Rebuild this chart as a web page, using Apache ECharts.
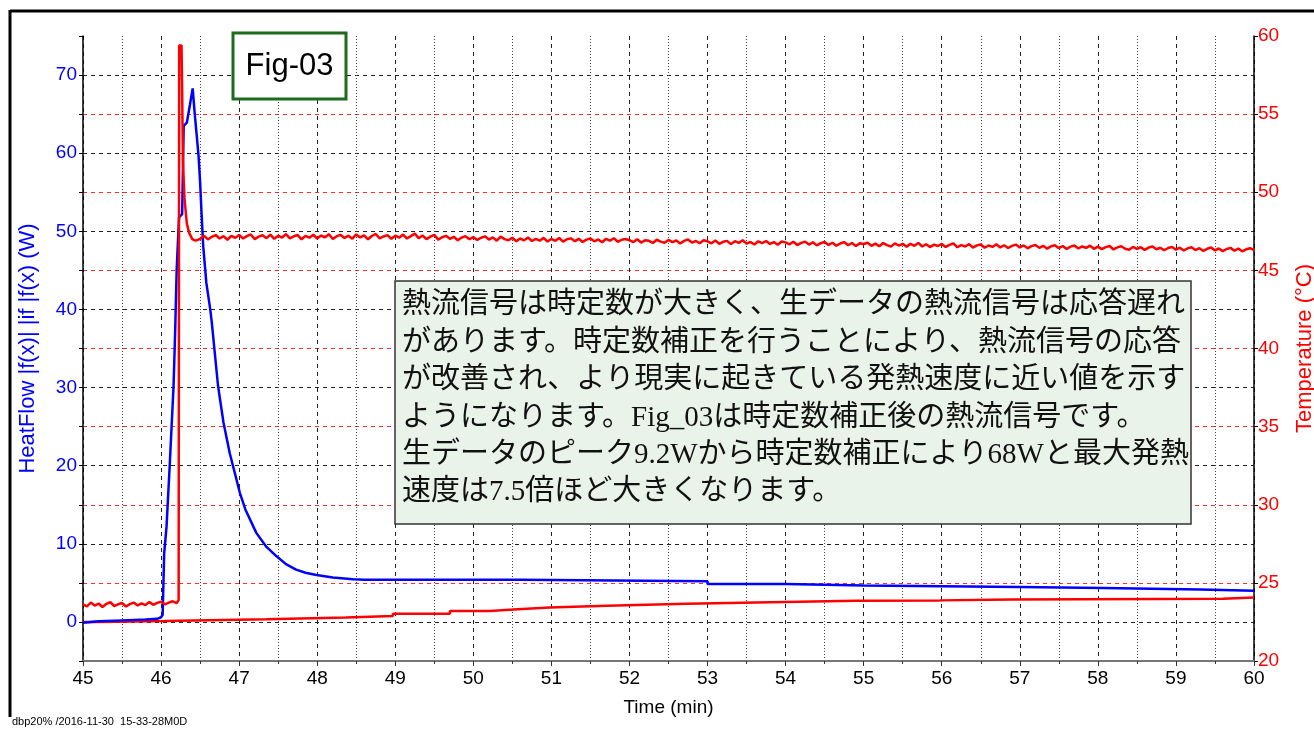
<!DOCTYPE html>
<html>
<head>
<meta charset="utf-8">
<script src="https://cdn.jsdelivr.net/npm/echarts/dist/echarts.min.js"></script>
<style>
html,body{margin:0;padding:0;background:#fff;}
#chart{width:1314px;height:729px;}
</style>
</head>
<body>
<div id="chart"></div>
<script>
// ---------------- DATA ----------------
const X_MIN = 45, X_MAX = 60, X_INTERVAL = 1;
const HF_MIN = -5, HF_MAX = 75;          // left axis (W)
const T_MIN = 20, T_MAX = 60;            // right axis (°C)

// Heat flow |f(x)| (W) : [time(min), value]
const heatFlow = [
  [45.0,-0.1],[45.2,0.1],[45.5,0.2],[45.8,0.3],[45.95,0.4],[46.0,0.6],[46.02,0.9],
  [46.04,8.8],[46.07,12.2],[46.11,19.9],[46.16,30.2],[46.18,37.0],[46.2,45.1],[46.23,51.8],
  [46.27,52.2],[46.29,63.5],[46.33,63.9],[46.37,66.2],[46.405,68.3],[46.43,65.2],[46.48,59.7],
  [46.5,56.3],[46.52,52.0],[46.54,48.1],[46.58,43.4],[46.63,40.0],[46.65,38.3],[46.73,30.2],
  [46.8,25.5],[46.88,21.6],[47.01,16.5],[47.08,14.4],[47.22,11.4],[47.35,9.6],[47.48,8.4],
  [47.6,7.4],[47.73,6.7],[47.85,6.3],[47.99,6.0],[48.2,5.7],[48.46,5.45],[48.6,5.4],
  [50.6,5.4],[50.6,5.2],[53.0,5.2],[53.0,4.87],[54.0,4.87],[54.0,4.65],[55.0,4.65],[55.0,4.48],
  [57.0,4.48],[57.0,4.35],[58.07,4.35],[58.07,4.15],[59.31,4.15],[59.31,4.0],[60.0,4.0]
];

// Reactor temperature (°C), sampled every 0.05 min
const TEMP_DT = 0.05;
const tempPreStart = 45.0;
const tempPre = [23.62,23.50,23.74,23.55,23.68,23.46,23.66,23.76,23.52,23.63,23.71,23.49,23.64,
  23.74,23.55,23.69,23.58,23.77,23.60,23.72,23.79,23.63,23.74,23.82,23.70];
const tempSpike = [[46.225,23.9],[46.232,59.4],[46.262,59.4],[46.27,56.5],[46.28,52.0],
  [46.30,49.6],[46.33,48.0],[46.36,47.4],[46.40,47.0],[46.44,46.9],[46.47,46.95]];
const tempFlatStart = 46.5;
const tempFlat = [
  47.02,47.22,46.98,47.15,47.26,47.04,47.19,46.96,47.21,47.08,
  47.27,47.04,47.19,47.30,47.00,47.16,47.25,47.06,47.29,47.02,47.22,47.10,47.32,47.05,47.18,47.26,46.99,47.21,47.09,47.28,
  47.04,47.23,47.12,47.31,47.01,47.19,47.27,47.07,47.22,47.03,47.30,47.11,47.24,46.99,47.20,47.33,47.05,47.17,47.26,47.02,
  47.22,47.09,47.29,47.04,47.19,47.35,47.06,47.23,47.00,47.16,47.27,46.97,47.12,47.21,47.02,47.15,46.93,47.10,47.19,46.99,
  47.13,46.95,47.09,47.18,46.97,47.11,46.90,47.16,47.00,46.93,47.09,46.86,47.04,46.92,47.11,46.88,47.02,46.90,47.08,46.85,
  47.01,46.89,47.07,46.84,46.99,47.05,46.87,47.02,46.82,46.97,47.04,46.86,46.98,46.80,47.02,46.90,47.06,46.83,46.96,47.01,
  46.93,46.81,46.99,46.78,46.93,46.89,46.75,46.96,46.84,46.77,46.95,46.81,46.91,46.72,46.89,46.98,46.78,46.88,46.74,46.93,
  46.86,46.73,46.91,46.70,46.83,46.89,46.68,46.87,46.76,46.93,46.71,46.82,46.66,46.86,46.75,46.88,46.69,46.81,46.64,46.85,
  46.79,46.67,46.83,46.62,46.76,46.84,46.65,46.80,46.60,46.74,46.82,46.63,46.77,46.58,46.72,46.81,46.61,46.75,46.56,46.73,
  46.69,46.77,46.57,46.71,46.54,46.75,46.62,46.52,46.73,46.59,46.70,46.51,46.70,46.57,46.76,46.53,46.67,46.49,46.65,46.56,
  46.69,46.50,46.63,46.73,46.48,46.62,46.53,46.68,46.46,46.60,46.66,46.45,46.59,46.50,46.67,46.47,46.61,46.43,46.57,46.65,
  46.47,46.60,46.41,46.55,46.63,46.44,46.57,46.39,46.54,46.61,46.42,46.56,46.37,46.52,46.59,46.40,46.53,46.44,46.58,46.38,
  46.52,46.36,46.49,46.56,46.34,46.47,46.54,46.38,46.32,46.50,46.37,46.48,46.31,46.46,46.53,46.35,46.45,46.29,46.43,46.50,
  46.33,46.45,46.27,46.41,46.48,46.30,46.42,46.25,46.38,46.46,46.28,46.40,46.23,46.37,46.44,46.26,46.39,46.22,46.35,46.42,
  46.30
];

// Jacket temperature (°C), step changes : [time, value]
const jacketTemp = [
  [45.0,22.5],[45.2,22.56],[46.05,22.67],[47.35,22.78],[48.37,22.88],[48.97,23.03],[49.7,23.2],
  [50.21,23.31],[50.57,23.42],[50.98,23.53],[51.71,23.6],[52.22,23.67],[52.73,23.76],[53.8,23.85],
  [54.91,23.88],[55.98,23.93],[56.9,23.98],[59.6,24.06],[60.0,24.06]
];

const TEXT_LINES = [
  '熱流信号は時定数が大きく、生データの熱流信号は応答遅れ',
  'があります。時定数補正を行うことにより、熱流信号の応答',
  'が改善され、より現実に起きている発熱速度に近い値を示す',
  'ようになります。Fig_03は時定数補正後の熱流信号です。',
  '生データのピーク9.2Wから時定数補正により68Wと最大発熱',
  '速度は7.5倍ほど大きくなります。'
];
const FIG_LABEL = 'Fig-03';
const FOOTER = 'dbp20% /2016-11-30  15-33-28M0D';
const LEFT_NAME = 'HeatFlow |f(x)| |if |f(x) (W)';
const RIGHT_NAME = 'Temperature (°C)';
const X_NAME = 'Time (min)';

// ---------------- BUILD ----------------
const tempData = [];
tempPre.forEach((v, i) => tempData.push([+(tempPreStart + i * TEMP_DT).toFixed(3), v]));
tempSpike.forEach(p => tempData.push(p));
tempFlat.forEach((v, i) => tempData.push([+(tempFlatStart + i * TEMP_DT).toFixed(3), v]));

// split-line colours for left axis ticks every 5 from -5 to 75
const gridColors = [];
for (let v = HF_MIN; v <= HF_MAX; v += 5) {
  if (v === HF_MIN || v === HF_MAX) gridColors.push('rgba(0,0,0,0)');
  else if (v % 10 === 0) gridColors.push('#222');
  else gridColors.push('#ff2a2a');
}

const SANS = '"Liberation Sans", Arial, sans-serif';
const chart = echarts.init(document.getElementById('chart'), null, {renderer: 'canvas'});
chart.setOption({
  animation: false,
  backgroundColor: '#fff',
  grid: {left: 83, right: 60, top: 36, bottom: 68, containLabel: false, outerBoundsMode: 'none'},
  xAxis: {
    type: 'value', min: X_MIN, max: X_MAX, interval: X_INTERVAL,
    name: X_NAME, nameLocation: 'middle', nameGap: 37,
    nameTextStyle: {color: '#000', fontSize: 19, fontFamily: SANS},
    axisLine: {show: true, onZero: false, lineStyle: {color: '#777', width: 2}},
    axisTick: {show: true, length: 5, lineStyle: {color: '#333'}},
    minorTick: {show: true, splitNumber: 2, length: 3, lineStyle: {color: '#333'}},
    axisLabel: {color: '#000', fontSize: 19, fontFamily: SANS, margin: 8},
    splitLine: {show: true, lineStyle: {color: '#222', type: [4, 4], width: 1}},
    minorSplitLine: {show: true, lineStyle: {color: '#444', type: [1, 2], width: 1}}
  },
  yAxis: [
    {
      type: 'value', min: HF_MIN, max: HF_MAX, interval: 5, position: 'left',
      name: LEFT_NAME, nameLocation: 'middle', nameGap: 44, nameRotate: 90,
      nameTextStyle: {color: '#0000ff', fontSize: 22, fontFamily: SANS},
      axisLine: {show: true, onZero: false, lineStyle: {color: '#000', width: 1.5}},
      axisTick: {show: true, length: 4, lineStyle: {color: '#000'}},
      axisLabel: {color: '#0000ff', fontSize: 19, fontFamily: SANS, margin: 6,
        formatter: v => (v % 10 === 0 && v >= 0 && v <= 70) ? String(v) : ''},
      splitLine: {show: true, lineStyle: {color: gridColors, type: [4, 4], width: 1}}
    },
    {
      type: 'value', min: T_MIN, max: T_MAX, interval: 5, position: 'right',
      name: RIGHT_NAME, nameLocation: 'middle', nameGap: 40, nameRotate: 90,
      nameTextStyle: {color: '#ff0000', fontSize: 22, fontFamily: SANS},
      axisLine: {show: true, onZero: false, lineStyle: {color: '#000', width: 1.5}},
      axisTick: {show: true, length: 4, lineStyle: {color: '#000'}},
      axisLabel: {color: '#ff0000', fontSize: 19, fontFamily: SANS, margin: 4},
      splitLine: {show: false}
    }
  ],
  series: [
    {
      type: 'line', name: 'jacket', yAxisIndex: 1, data: jacketTemp, step: 'end',
      showSymbol: false, symbol: 'none', lineStyle: {color: '#ff0000', width: 2.5}, z: 3
    },
    {
      type: 'line', name: 'heatflow', yAxisIndex: 0, data: heatFlow,
      showSymbol: false, symbol: 'none', lineStyle: {color: '#0000ff', width: 2.5}, z: 4
    },
    {
      type: 'line', name: 'temp', yAxisIndex: 1, data: tempData,
      showSymbol: false, symbol: 'none', lineStyle: {color: '#ff0000', width: 2.5}, z: 5
    }
  ],
  graphic: [
    {type: 'line', shape: {x1: 10, y1: 11, x2: 1314, y2: 11}, style: {stroke: '#000', lineWidth: 3}, z: 100},
    {type: 'line', shape: {x1: 10, y1: 10, x2: 10, y2: 717}, style: {stroke: '#000', lineWidth: 3}, z: 100},
    {type: 'rect', shape: {x: 233, y: 33, width: 113, height: 66},
      style: {fill: '#fff', stroke: '#1e6b1e', lineWidth: 3}, z: 100},
    {type: 'text', x: 289.5, y: 66, z: 101,
      style: {text: FIG_LABEL, fill: '#000', font: '31px ' + SANS, align: 'center', verticalAlign: 'middle'}},
    {type: 'rect', shape: {x: 395, y: 281, width: 796, height: 243},
      style: {fill: '#eaf3ea', stroke: '#333', lineWidth: 1.5}, z: 100},
    {type: 'text', x: 402, y: 287, z: 101,
      style: {text: TEXT_LINES.join('\n'), fill: '#111', lineHeight: 37.4,
        font: '29px "Liberation Serif", "Noto Sans CJK JP", serif', align: 'left', verticalAlign: 'top'}},
    {type: 'text', x: 12, y: 722, z: 101,
      style: {text: FOOTER, fill: '#000', font: '11px ' + SANS, verticalAlign: 'middle'}}
  ]
});
</script>
</body>
</html>
